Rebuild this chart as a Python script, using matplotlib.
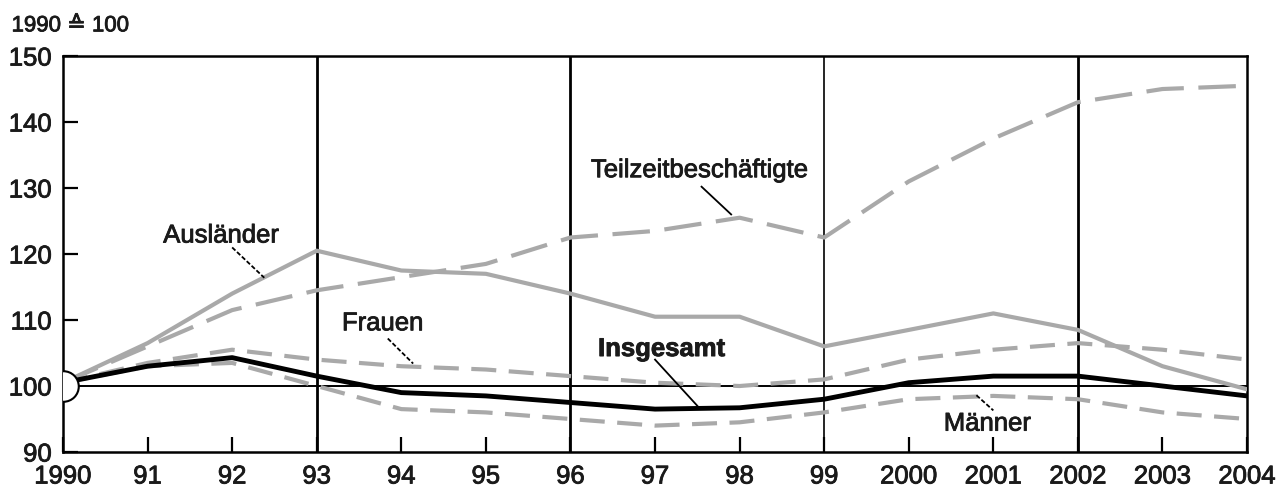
import matplotlib.pyplot as plt
import matplotlib.patheffects as pe

plt.rcParams['font.family'] = ['Liberation Sans', 'DejaVu Sans']

years = list(range(1990, 2005))
year_labels = ["1990", "91", "92", "93", "94", "95", "96", "97", "98", "99",
               "2000", "2001", "2002", "2003", "2004"]

teilzeit = [100.5, 106, 111.5, 114.5, 116.5, 118.5, 122.5, 123.5, 125.5, 122.5,
            131, 137.5, 143, 145, 145.5]
auslaender = [100.5, 106.5, 114, 120.5, 117.5, 117, 114, 110.5, 110.5, 106,
              108.5, 111, 108.5, 103, 99.5]
frauen = [100.5, 103.5, 105.5, 104, 103, 102.5, 101.5, 100.5, 100, 101,
          104, 105.5, 106.5, 105.5, 104]
insgesamt = [100.5, 103, 104.3, 101.5, 99, 98.5, 97.5, 96.5, 96.7, 98,
             100.5, 101.5, 101.5, 100, 98.5]
maenner = [100.5, 103, 103.5, 100, 96.5, 96, 95, 94, 94.5, 96,
           98, 98.5, 98, 96, 95]

grey = "#a9a9a9"
txt_col = "#1a1a1a"
heavy = [pe.withStroke(linewidth=0.6, foreground=txt_col)]

fig = plt.figure(figsize=(12.83, 4.89), dpi=100)
ax = fig.add_axes([0.0491, 0.0736, 0.9229, 0.8098])

# vertical separators
for yr, lw in [(1993, 2.0), (1996, 2.0), (1999, 1.2), (2002, 2.0)]:
    ax.axvline(yr, color="black", lw=lw, zorder=1)
ax.axhline(100, color="black", lw=1.4, zorder=1)

ax.plot(years, teilzeit, color=grey, lw=3, dashes=(9, 3.5), zorder=3)
ax.plot(years, auslaender, color=grey, lw=3, zorder=3)
ax.plot(years, frauen, color=grey, lw=3, dashes=(6, 3), zorder=3)
ax.plot(years, maenner, color=grey, lw=3, dashes=(6, 3), zorder=3)
ax.plot(years, insgesamt, color="black", lw=3.5, zorder=4)

# base-year marker
ax.plot([1990], [100], marker="o", ms=22, mfc="white", mec="black", mew=1.5,
        zorder=5, clip_on=True)

ax.set_xlim(1990, 2004)
ax.set_ylim(90, 150)
ax.set_xticks(years)
ax.set_xticklabels(year_labels)
ax.set_yticks([90, 100, 110, 120, 130, 140, 150])
ax.tick_params(direction="in", length=11, width=1.6, labelsize=18.5,
               labelcolor=txt_col)
ax.tick_params(axis="x", pad=9)
ax.tick_params(axis="y", pad=8)
for lab in ax.get_xticklabels() + ax.get_yticklabels():
    lab.set_path_effects(heavy)
for s in ax.spines.values():
    s.set_linewidth(1.8)

fig.text(0.009, 0.945, "1990 \u2259 100", fontsize=16, ha="left", va="center",
         color=txt_col, path_effects=heavy)

def label(txt, xy_text, xy_from, xy_to, bold=False, dashed=False):
    ax.text(*xy_text, txt, fontsize=18.5, ha="center", va="center",
            fontweight="bold" if bold else "normal", color=txt_col, zorder=6,
            path_effects=heavy)
    ln, = ax.plot([xy_from[0], xy_to[0]], [xy_from[1], xy_to[1]], color="black",
                  lw=1.3, zorder=6)
    if dashed:
        ln.set_dashes((2.5, 1.2))

label("Ausländer", (1991.87, 122.8), (1992.0, 121.0), (1992.38, 116.4), dashed=True)
label("Teilzeitbeschäftigte", (1997.53, 132.7), (1997.55, 130.2), (1997.9, 126))
label("Frauen", (1993.78, 109.5), (1993.84, 107.2), (1994.14, 103.4), dashed=True)
label("Insgesamt", (1997.08, 105.6), (1997.0, 104), (1997.5, 97), bold=True)
label("Männer", (2000.93, 94.3), (2000.8, 98.6), (2001.0, 96.3), dashed=True)

fig.savefig("out.png", dpi=100)
